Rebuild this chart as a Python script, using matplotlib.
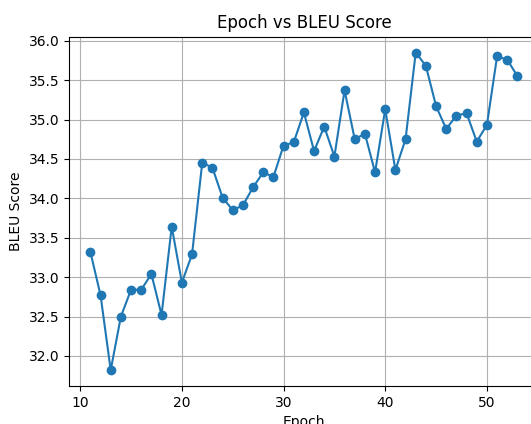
import matplotlib
matplotlib.use("Agg")
import matplotlib.pyplot as plt

epochs = list(range(11, 54))
bleu = [33.32, 32.77, 31.82, 32.50, 32.84, 32.84, 33.04, 32.52, 33.64, 32.93,
        33.29, 34.45, 34.39, 34.01, 33.85, 33.91, 34.14, 34.33, 34.27, 34.67,
        34.71, 35.09, 34.60, 34.91, 34.53, 35.37, 34.75, 34.82, 34.33, 35.13,
        34.36, 34.75, 35.85, 35.68, 35.17, 34.88, 35.05, 35.08, 34.72, 34.93,
        35.80, 35.76, 35.55]

fig = plt.figure(figsize=(5.31, 4.24), dpi=100)
ax = fig.add_axes([0.13, 0.0896, 0.8846, 0.824])
ax.plot(epochs, bleu, marker="o")
ax.set_title("Epoch vs BLEU Score")
ax.set_xlabel("Epoch")
ax.set_ylabel("BLEU Score")
ax.grid(True)
fig.savefig("out.png", dpi=100)
